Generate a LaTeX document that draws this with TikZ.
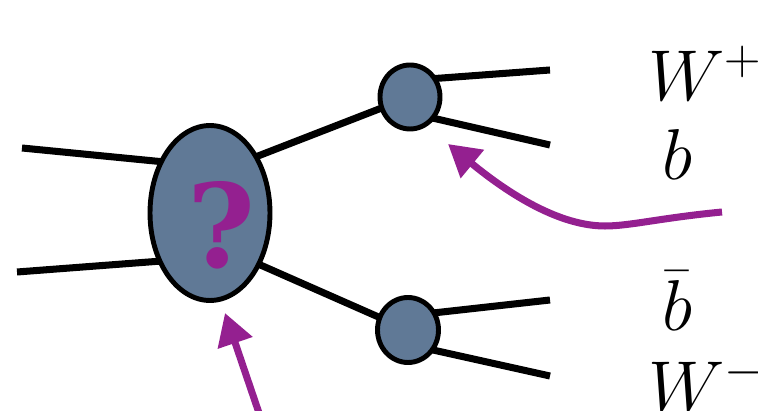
\RequirePackage{fix-cm}
\documentclass[tikz,border=0pt]{standalone}
\usepackage{fontspec}
\usetikzlibrary{shapes.geometric,arrows.meta,backgrounds}
\newfontfamily\qfont{DejaVu Serif}
\definecolor{blobfill}{RGB}{96,121,150}
\definecolor{arrowpurple}{RGB}{148,32,144}
\tikzset{
  leg/.style={line width=4pt, black},
  blob/.style={draw=black, line width=2.8pt, fill=blobfill, inner sep=0pt},
  pointer/.style={line width=4pt, arrowpurple, -{Triangle[length=18pt,width=20pt]}},
  lbl/.style={anchor=base west, inner sep=0pt, font=\fontsize{41}{48}\selectfont}
}
\begin{document}
\begin{tikzpicture}[x=0.02cm,y=-0.02cm]
\useasboundingbox (0,0) rectangle (758,411);
% nodes
\node[blob, ellipse, minimum width=2.4cm, minimum height=3.5cm] (big) at (210,213) {};
\node[blob, ellipse, minimum width=1.2cm, minimum height=1.28cm] (up) at (410,97) {};
\node[blob, ellipse, minimum width=1.22cm, minimum height=1.3cm] (dn) at (408,330) {};
\node[text=arrowpurple, inner sep=0pt, font=\qfont\bfseries\fontsize{66}{70}\selectfont] (q) at (221,225) {?};
% labels
\node[lbl] (wp) at (648,101) {$W^+$};
\node[lbl] (b1) at (662,180) {$b$};
\node[lbl] (b2) at (662,331) {$\bar b$};
\node[lbl] (wm) at (648,412) {$W^-$};
% leg coordinates
\coordinate (l1) at (22,148);
\coordinate (l2) at (17,272);
\coordinate (l1e) at (175,163);
\coordinate (l2e) at (175,260);
\coordinate (bu) at (240,163);
\coordinate (bd) at (240,256);
\coordinate (u1s) at (415,80);
\coordinate (u2s) at (415,114);
\coordinate (d1s) at (415,315);
\coordinate (d2s) at (415,346);
\coordinate (u1) at (550,70);
\coordinate (u2) at (550,145);
\coordinate (d1) at (550,300);
\coordinate (d2) at (550,376);
\begin{pgfonlayer}{background}
\draw[leg] (l1) -- (l1e);
\draw[leg] (l2) -- (l2e);
\draw[leg] (bu) -- (up.center);
\draw[leg] (bd) -- (dn.center);
\draw[leg] (u1s) -- (u1);
\draw[leg] (u2s) -- (u2);
\draw[leg] (d1s) -- (d1);
\draw[leg] (d2s) -- (d2);
\end{pgfonlayer}
% pointers
\coordinate (p1s) at (722,212);
\coordinate (p1m) at (605,226);
\coordinate (p1t) at (448,144);
\coordinate (p2s) at (259,413);
\coordinate (p2t) at (225,313);
\draw[pointer] (p1s) .. controls (660,218) and (630,226) .. (p1m) .. controls (560,226) and (510,195) .. (p1t);
\draw[pointer] (p2s) -- (p2t);
\end{tikzpicture}
\end{document}
